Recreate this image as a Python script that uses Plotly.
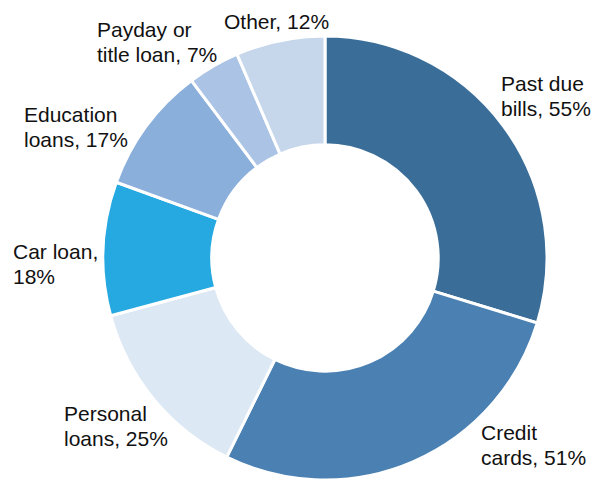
import plotly.graph_objects as go

categories = ["Past due bills", "Credit cards", "Personal loans", "Car loan",
              "Education loans", "Payday or title loan", "Other"]
label_lines = [["Past due", "bills, 55%"], ["Credit", "cards, 51%"], ["Personal", "loans, 25%"],
               ["Car loan,", "18%"], ["Education", "loans, 17%"], ["Payday or", "title loan, 7%"],
               ["Other, 12%"]]
values = [55, 51, 25, 18, 17, 7, 12]
colors = ["#3A6E99", "#4A80B2", "#DCE8F4", "#25A9E0", "#8AAFDB", "#ABC4E5", "#C6D7EC"]

# label layout (pixel: left edge, first-line baseline)
label_pos = [(500, 91), (480, 440), (63, 421), (12, 259), (23, 122), (96, 37), (223, 29)]

W, H = 592, 480
cx, cy, r = 325, 258, 222
FS = 21
LINE = 24.5

fig = go.Figure(go.Pie(
    labels=categories, values=values, textinfo="none",
    hole=0.51, sort=False, direction="clockwise", rotation=0,
    marker=dict(colors=colors, line=dict(color="white", width=3)),
    domain=dict(x=[(cx - r) / W, (cx + r) / W],
                y=[max(0, (H - cy - r) / H), min(1, (H - cy + r) / H)]),
    showlegend=False, hoverinfo="label+value",
))

for lines, (lx, by) in zip(label_lines, label_pos):
    for i, t in enumerate(lines):
        base = by + i * LINE
        mid = base - 0.34 * FS
        fig.add_annotation(text=t, xref="paper", yref="paper",
                           x=lx / W, y=1 - mid / H, xanchor="left", yanchor="middle",
                           showarrow=False, borderpad=0,
                           font=dict(family="Liberation Sans, Arial, sans-serif", size=FS, color="#111111"))

fig.update_layout(width=W, height=H, margin=dict(l=0, r=0, t=0, b=0),
                  paper_bgcolor="white", plot_bgcolor="white")
fig.write_html("out.html", config={"displayModeBar": False},
               post_script="document.body.style.margin='0';document.body.style.overflow='hidden';")
